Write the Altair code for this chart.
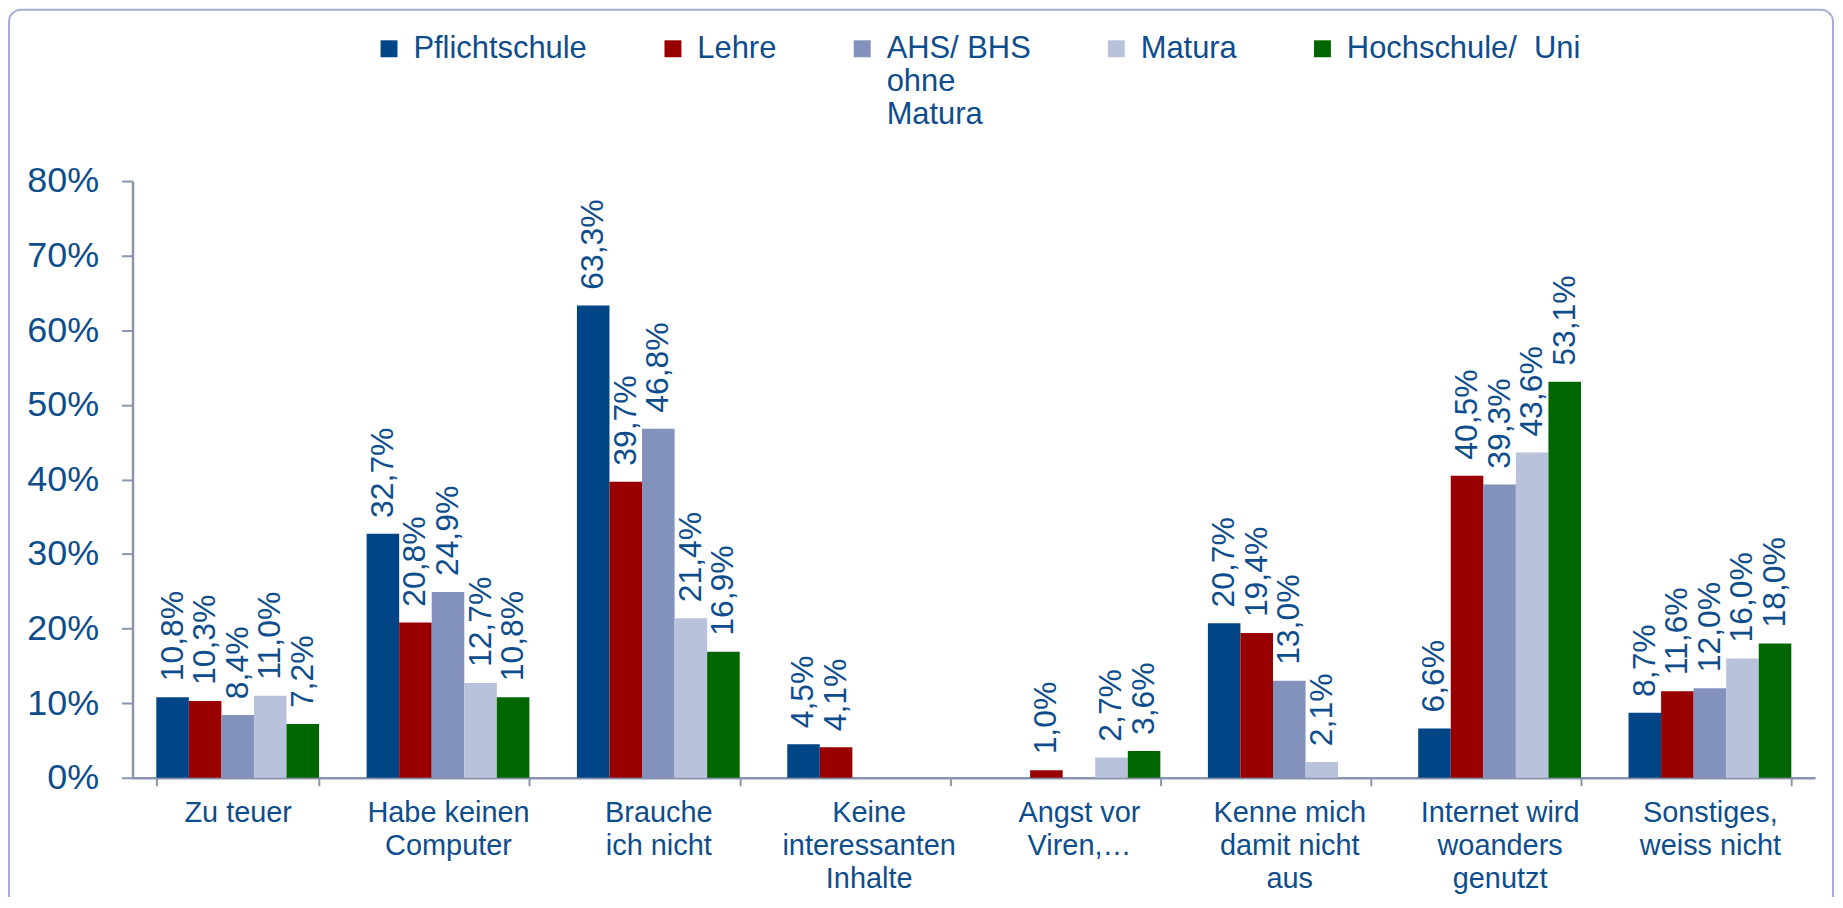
import altair as alt
import pandas as pd

categories = ["Zu teuer", "Habe keinen|Computer", "Brauche|ich nicht",
              "Keine|interessanten|Inhalte", "Angst vor|Viren,…",
              "Kenne mich|damit nicht|aus", "Internet wird|woanders|genutzt",
              "Sonstiges,|weiss nicht"]
series = ["Pflichtschule", "Lehre", "AHS/ BHS|ohne|Matura", "Matura", "Hochschule/\u00a0 Uni"]
colors = ["#004586", "#990000", "#8391BD", "#B8C2DB", "#006600"]

pflichtschule = [10.8, 32.7, 63.3, 4.5, None, 20.7, 6.6, 8.7]
lehre = [10.3, 20.8, 39.7, 4.1, 1.0, 19.4, 40.5, 11.6]
ahs_bhs = [8.4, 24.9, 46.8, None, None, 13.0, 39.3, 12.0]
matura = [11.0, 12.7, 21.4, None, 2.7, 2.1, 43.6, 16.0]
hochschule = [7.2, 10.8, 16.9, None, 3.6, None, 53.1, 18.0]

rows = []
for s, vals in zip(series, [pflichtschule, lehre, ahs_bhs, matura, hochschule]):
    for c, v in zip(categories, vals):
        if v is not None:
            rows.append({"cat": c, "series": s, "value": v / 100.0,
                         "label": f"{v:.1f}".replace(".", ",") + "%"})
df = pd.DataFrame(rows)

BLUE = "#0E4D8C"
AXIS = "#8A94AE"
W, H = 1689, 599

x_enc = alt.X("cat:N", sort=categories, title=None,
              scale=alt.Scale(paddingInner=0.226, paddingOuter=0.113),
              axis=alt.Axis(labelExpr="split(datum.label, '|')", labelAngle=0,
                            labelFontSize=29, labelColor=BLUE, labelLineHeight=33,
                            labelPadding=13, labelBaseline="top",
                            tickBand="extent", tickSize=8, tickColor=AXIS, tickWidth=2,
                            domainColor=AXIS, domainWidth=2.5))
xo_enc = alt.XOffset("series:N", sort=series, scale=alt.Scale(domain=series, paddingInner=0))
y_enc = alt.Y("value:Q", title=None,
              scale=alt.Scale(domain=[0, 0.8], nice=False),
              axis=alt.Axis(values=[0, 0.1, 0.2, 0.3, 0.4, 0.5, 0.6, 0.7, 0.8],
                            format=".0%", labelFontSize=36, labelColor=BLUE,
                            labelPadding=23, tickSize=11, tickColor=AXIS, tickWidth=2,
                            domainColor=AXIS, domainWidth=2.5, grid=False))

NB = "\u00a0"
legend_expr = (f"split(datum.label + "
               f"(indexof(datum.label, '|') < 0 ? '|{NB}|{NB}' : ''), '|')")
# square symbol (unit box -1..1) raised so its centre sits at the text's mid-cap height
symbol_path = "M-1,-2.12H1V-0.12H-1Z"

bars = alt.Chart(df).mark_bar().encode(
    x=x_enc, xOffset=xo_enc, y=y_enc,
    color=alt.Color("series:N", sort=series,
                    scale=alt.Scale(domain=series, range=colors),
                    legend=alt.Legend(title=None, orient="none", legendX=242, legendY=-139,
                                      direction="horizontal", columns=5,
                                      labelExpr=legend_expr,
                                      labelFontSize=31, labelColor=BLUE,
                                      labelBaseline="alphabetic",
                                      symbolType=symbol_path, symbolSize=289,
                                      symbolStrokeWidth=0, symbolOpacity=1,
                                      labelOffset=9, columnPadding=70, padding=0,
                                      labelLimit=400))
)

labels = alt.Chart(df).mark_text(angle=270, align="left", baseline="middle",
                                 dx=16, fontSize=32, color=BLUE).encode(
    x=alt.X("cat:N", sort=categories), xOffset=xo_enc, y=alt.Y("value:Q"),
    text="label:N")

frame = alt.Chart(pd.DataFrame({"a": [0]})).mark_rect(
    fill=None, stroke="#A4AFD4", strokeWidth=2, cornerRadius=12).encode(
    x=alt.value(-124), x2=alt.value(1707), y=alt.value(-172), y2=alt.value(760))

chart = alt.layer(frame, bars, labels).properties(
    width=W, height=H,
    autosize=alt.AutoSizeParams(type="none"),
    padding={"left": 125, "top": 172, "right": 20, "bottom": 118},
).configure(font="Liberation Sans").configure_view(stroke=None)

chart.save("out.html", embed_options={"renderer": "svg", "actions": False})
